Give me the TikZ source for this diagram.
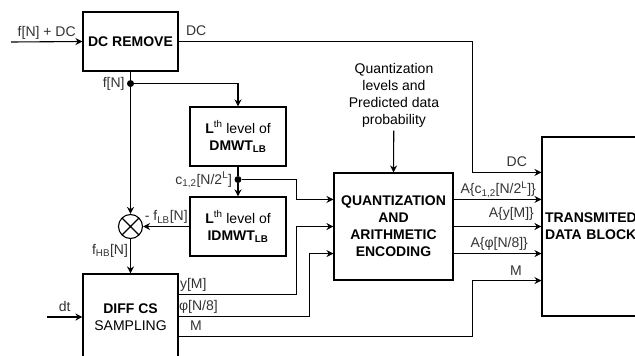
\documentclass[tikz,border=0pt]{standalone}
\usepackage{fontspec}
\setmainfont{Liberation Sans}
\usetikzlibrary{arrows.meta, positioning, calc}

\begin{document}
\begin{tikzpicture}[x=1pt, y=-1pt,
    every node/.style={font=\fontsize{14}{17}\selectfont},
    block/.style={rectangle, draw, line width=1.1pt, align=center, inner sep=2pt, font=\fontsize{14}{17}\selectfont\bfseries},
    lvlblock/.style={block, minimum width=96pt, minimum height=59pt, font=\fontsize{14}{17}\selectfont},
    sumnode/.style={circle, draw, line width=1.1pt, minimum size=24pt, inner sep=0pt,
        path picture={\draw[line width=1.1pt] (path picture bounding box.north west) -- (path picture bounding box.south east)
            (path picture bounding box.north east) -- (path picture bounding box.south west);}},
    dot/.style={circle, fill, inner sep=0pt, minimum size=7pt},
    wire/.style={line width=1.1pt},
    arr/.style={-{Stealth[length=7pt, width=7pt]}, line width=1.1pt},
    lbl/.style={font=\fontsize{14}{17}\selectfont, text=black!80, inner sep=2pt, text depth=3pt}
]
\useasboundingbox (0,0) rectangle (635,356);
\clip (0,0) rectangle (635,356);

% -- blocks --
\node[block, minimum width=95pt, minimum height=59pt] (dcrem) at (130.5,41.5) {DC REMOVE};
\node[lvlblock] (dmwt) at (238,136.5) {\textbf{L}\textsuperscript{th} level of\\\textbf{DMWT\textsubscript{LB}}};
\node[lvlblock] (idmwt) at (238,226.5) {\textbf{L}\textsuperscript{th} level of\\\textbf{IDMWT\textsubscript{LB}}};
\node[block, minimum width=95pt, minimum height=86pt, font=\fontsize{14}{17}\selectfont] (diff) at (130.5,317) {\textbf{DIFF CS}\\SAMPLING};
\node[block, minimum width=119pt, minimum height=107pt] (q) at (393.5,226.5) {QUANTIZATION\\AND\\ARITHMETIC\\ENCODING};
\node[block, minimum height=179pt, text width=130pt, align=left, inner xsep=3pt] (trans) at (610,226.5) {TRANSMITED\\DATA BLOCK};
\node[align=center] (qtxt) at (394,95) {Quantization\\levels and\\Predicted data\\probability};

% -- junctions and ports --
\node[dot] (fdot) at ($(dcrem.south)+(0,12)$) {};
\node[dot] (cdot) at ($(dmwt.south)+(0,13)$) {};
\node[sumnode] (sum) at (fdot |- idmwt) {};
\coordinate (fin) at (11,42);
\coordinate (dtin) at (47,317);
\coordinate (dy) at ($(diff.north east)+(0,21)$);
\coordinate (dphi) at ($(diff.north east)+(0,43)$);
\coordinate (dm) at ($(diff.north east)+(0,63)$);
\foreach \i/\p in {1/0.25, 2/0.5, 3/0.75} {
  \coordinate (qw\i) at ($(q.north west)!\p!(q.south west)$);
  \coordinate (qe\i) at ($(q.north east)!\p!(q.south east)$);
}

% -- DC path --
\draw[arr] (fin) -- node[lbl, above] {f[N] + DC} (dcrem.west);
\draw[arr] (dcrem.east) node[lbl, above right, xshift=5pt] {DC} -| ($(q.north east)+(19,0)$) -- (trans.west |- q.north)
    node[lbl, above left, xshift=-12pt] {DC};

% -- wavelet branch --
\draw[wire] (dcrem.south) -- (fdot);
\node[lbl, left=0pt of fdot] {f[N]};
\draw[arr] (fdot) -| (dmwt.north);
\draw[wire] (dmwt.south) -- (cdot);
\node[lbl, left=0pt of cdot] {c\textsubscript{1,2}[N/2\textsuperscript{L}]};
\draw[arr] (cdot) -- (idmwt.north);
\draw[arr] (cdot) -| ($(qw1)+(-37,0)$) -- (qw1);
\draw[arr] (idmwt.west) -- node[lbl, above] {- f\textsubscript{LB}[N]} (sum.east);
\draw[arr] (fdot) -- (sum.north);
\draw[arr] (sum.south) -- node[lbl, left, pos=0.35] {f\textsubscript{HB}[N]} (diff.north);

% -- sampling outputs --
\draw[arr] (dtin) -- node[lbl, above] {dt} (diff.west |- dtin);
\draw[arr] (dy) node[lbl, above right, xshift=-1pt] {y[M]} -| ($(qw2)+(-37,0)$) -- (qw2);
\draw[arr] (dphi) node[lbl, above right, xshift=-2pt] {φ[N/8]} -| ($(qw3)+(-24,0)$) -- (qw3);
\draw[arr] (dm) node[lbl, above right, xshift=9pt] {M} -| ($(q.south east)+(19,0)$) -- (trans.west |- q.south)
    node[lbl, above left, xshift=-17pt] {M};

% -- encoder --
\draw[arr] (qtxt) -- (q.north);
\draw[arr] (qe1) -- (trans.west |- qe1) node[lbl, above left, xshift=-3pt] {A\{c\textsubscript{1,2}[N/2\textsuperscript{L}]\}};
\draw[arr] (qe2) -- (trans.west |- qe2) node[lbl, above left, xshift=-5pt, yshift=3pt] {A\{y[M]\}};
\draw[arr] (qe3) -- (trans.west |- qe3) node[lbl, above left, xshift=-11pt] {A\{φ[N/8]\}};

\end{tikzpicture}
\end{document}
